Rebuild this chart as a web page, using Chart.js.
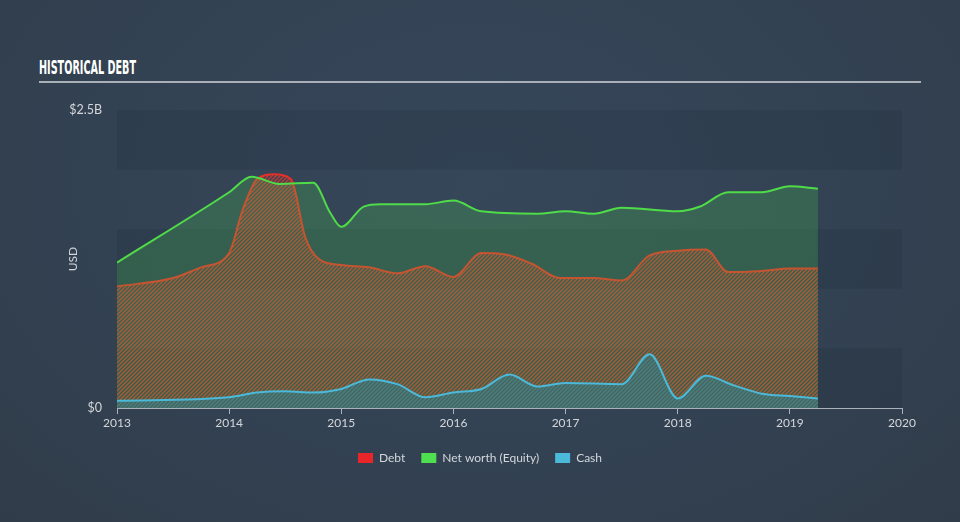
<!DOCTYPE html>
<html><head><meta charset="utf-8">
<script src="https://cdn.jsdelivr.net/npm/chart.js@4.4.0/dist/chart.umd.min.js"></script>
<style>
html,body{margin:0;padding:0;width:960px;height:522px;overflow:hidden;}
body{background:radial-gradient(ellipse at 50% 35%, #36475a 0%, #334253 55%, #303c49 100%);}
#title{position:absolute;left:39px;top:55px;font-family:"Liberation Sans Narrow","DejaVu Sans Condensed",sans-serif;font-weight:bold;font-size:20px;line-height:24px;color:#ffffff;transform-origin:0 0;white-space:nowrap;}
#rule{position:absolute;left:39px;top:81px;width:882px;height:2px;background:#a9b0b8;}
#wrap{position:absolute;left:0;top:0;width:960px;height:522px;}
</style></head>
<body>
<div id="title">HISTORICAL DEBT</div>
<div id="rule"></div>
<div id="wrap"><canvas id="c" width="960" height="522"></canvas></div>
<script>
// ---- data (values in billions USD, x in decimal years) ----
const seriesNames = ['Debt', 'Net worth (Equity)', 'Cash'];
const debtDates  = [2013.0, 2013.5, 2013.75, 2014.0, 2014.12, 2014.25, 2014.4, 2014.55, 2014.68, 2014.8, 2015.0, 2015.25, 2015.5, 2015.75, 2016.0, 2016.25, 2016.45, 2016.7, 2016.95, 2017.25, 2017.5, 2017.75, 2018.0, 2018.25, 2018.45, 2018.75, 2019.0, 2019.25];
const debtValues = [1.02, 1.09, 1.18, 1.30, 1.66, 1.92, 1.96, 1.92, 1.43, 1.25, 1.20, 1.18, 1.13, 1.19, 1.10, 1.30, 1.29, 1.21, 1.09, 1.09, 1.07, 1.28, 1.32, 1.33, 1.14, 1.15, 1.17, 1.17];
const netDates   = [2013.0, 2014.0, 2014.2, 2014.45, 2014.75, 2014.9, 2015.0, 2015.2, 2015.35, 2015.75, 2016.0, 2016.25, 2016.75, 2017.0, 2017.25, 2017.5, 2018.0, 2018.2, 2018.45, 2018.75, 2019.0, 2019.25];
const netValues  = [1.22, 1.81, 1.94, 1.88, 1.89, 1.64, 1.52, 1.69, 1.71, 1.71, 1.74, 1.65, 1.63, 1.65, 1.63, 1.68, 1.65, 1.69, 1.81, 1.81, 1.86, 1.84];
const cashDates  = [2013.0, 2014.0, 2014.25, 2014.5, 2014.75, 2015.0, 2015.25, 2015.5, 2015.75, 2016.0, 2016.25, 2016.5, 2016.75, 2017.0, 2017.5, 2017.75, 2018.0, 2018.25, 2018.5, 2018.75, 2019.0, 2019.25];
const cashValues = [0.06, 0.09, 0.13, 0.14, 0.13, 0.16, 0.24, 0.20, 0.09, 0.13, 0.16, 0.28, 0.18, 0.21, 0.20, 0.45, 0.08, 0.27, 0.19, 0.12, 0.10, 0.08];
const xTickValues = [2013, 2014, 2015, 2016, 2017, 2018, 2019, 2020];
const yTickValues = [0, 2.5];
const yTickLabels = ['$0', '$2.5B'];
const bandValues  = [0, 0.5, 1.0, 1.5, 2.0, 2.5];

// ---- title fit ----
(function(){
  const t = document.getElementById('title');
  const w = t.getBoundingClientRect().width;
  t.style.transform = 'scaleX(' + (97 / w) + ')';
})();

function hatch(stripe, base) {
  const s = 4;
  const c = document.createElement('canvas');
  c.width = s; c.height = s;
  const g = c.getContext('2d');
  if (base) { g.fillStyle = base; g.fillRect(0, 0, s, s); }
  g.strokeStyle = stripe; g.lineWidth = 1.5;
  g.beginPath();
  g.moveTo(-1, s + 1); g.lineTo(s + 1, -1);
  g.moveTo(-1, 1); g.lineTo(1, -1);
  g.moveTo(s - 1, s + 1); g.lineTo(s + 1, s - 1);
  g.stroke();
  return g.createPattern(c, 'repeat');
}
const ctx = document.getElementById('c').getContext('2d');
const debtFill = hatch('rgba(226,58,44,0.8)', null);
const cashFill = hatch('rgba(84,170,190,0.38)', 'rgb(68,100,92)');
const legendColors = ['#e8262a', '#4fe04f', '#4bb9da'];

const pts = (xs, ys) => xs.map((x, i) => ({x: x, y: ys[i]}));

const bands = {
  id: 'bands',
  beforeDraw(chart) {
    const {ctx, chartArea: a, scales: {y}} = chart;
    ctx.save();
    ctx.fillStyle = 'rgba(22,32,44,0.15)';
    for (let i = 0; i < bandValues.length - 1; i += 2) {
      const y1 = y.getPixelForValue(bandValues[i + 1]);
      const y0 = y.getPixelForValue(bandValues[i]);
      ctx.fillRect(a.left, y1, a.right - a.left, y0 - y1);
    }
    ctx.restore();
  }
};

const tickFont = {family: 'Lato, "Open Sans", sans-serif', size: 12};
const textColor = '#d3d7db';

new Chart(ctx, {
  type: 'line',
  data: {
    datasets: [
      {label: seriesNames[0], data: pts(debtDates, debtValues), order: 2,
       borderColor: '#e3302a', borderWidth: 2, backgroundColor: debtFill, fill: 'origin',
       pointRadius: 0, cubicInterpolationMode: 'monotone'},
      {label: seriesNames[1], data: pts(netDates, netValues), order: 1,
       borderColor: '#4fdc48', borderWidth: 2, backgroundColor: 'rgba(80,230,80,0.2)', fill: 'origin',
       pointRadius: 0, cubicInterpolationMode: 'monotone'},
      {label: seriesNames[2], data: pts(cashDates, cashValues), order: 0,
       borderColor: '#4bb9da', borderWidth: 2, backgroundColor: cashFill, fill: 'origin',
       pointRadius: 0, cubicInterpolationMode: 'monotone'}
    ]
  },
  options: {
    responsive: false,
    animation: false,
    layout: {padding: {left: 58, right: 58, top: 110, bottom: 48}},
    scales: {
      x: {
        type: 'linear', min: 2013, max: 2020,
        afterBuildTicks: s => { s.ticks = xTickValues.map(v => ({value: v})); },
        afterFit: s => { s.height = 28; },
        ticks: {color: textColor, font: tickFont, padding: 2, callback: v => String(v), maxRotation: 0},
        grid: {drawOnChartArea: false, drawTicks: true, tickLength: 6, color: 'rgba(190,198,206,0.85)'},
        border: {color: 'rgba(190,198,206,0.85)', width: 1}
      },
      y: {
        min: 0, max: 2.5,
        afterBuildTicks: s => { s.ticks = yTickValues.map(v => ({value: v})); },
        afterFit: s => { s.width = 59; },
        ticks: {color: textColor, font: {family: tickFont.family, size: 12.5}, padding: 15, callback: (v, i) => yTickLabels[i]},
        grid: {display: false, drawTicks: false},
        border: {display: false},
        title: {display: true, text: 'USD', color: textColor, font: tickFont, padding: {top: 8, bottom: 0}}
      }
    },
    plugins: {
      tooltip: {enabled: false},
      legend: {
        position: 'bottom',
        labels: {
          color: textColor, font: tickFont, boxWidth: 15, boxHeight: 10, padding: 16,
          generateLabels: chart => chart.data.datasets.map((d, i) => ({
            text: d.label, fillStyle: legendColors[i], strokeStyle: legendColors[i],
            lineWidth: 0, hidden: false, datasetIndex: i, fontColor: textColor
          }))
        }
      }
    }
  },
  plugins: [bands]
});
</script>
</body></html>
